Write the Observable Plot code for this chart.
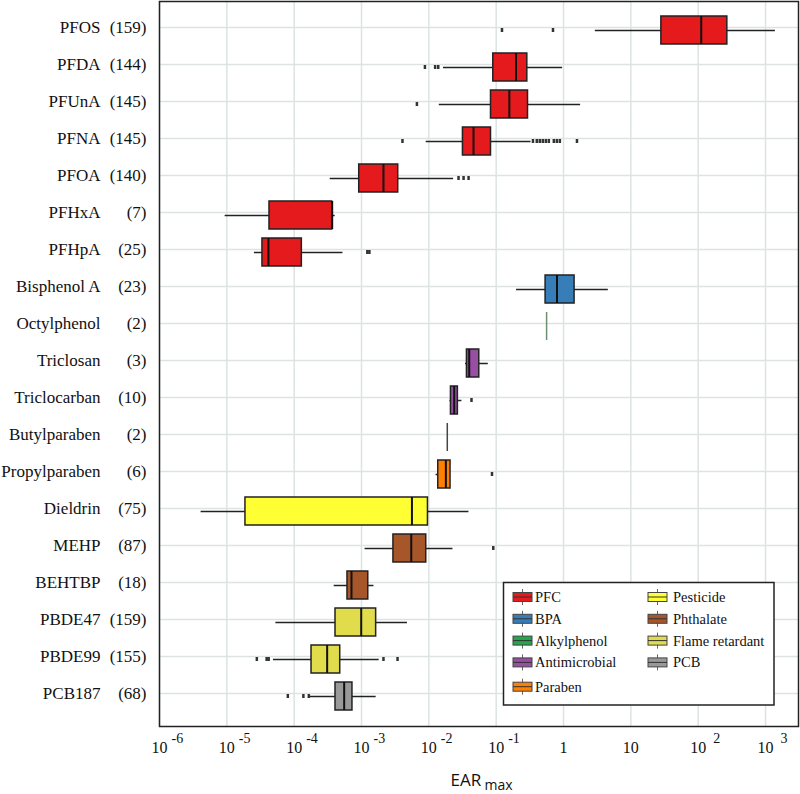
<!DOCTYPE html>
<html><head><meta charset="utf-8">
<script src="https://cdn.jsdelivr.net/npm/d3@7"></script>
<script src="https://cdn.jsdelivr.net/npm/@observablehq/plot@0.6"></script>
<style>body{margin:0;background:#fff}</style>
</head><body><div id="chart"></div>
<script>
const names = ["PFOS","PFDA","PFUnA","PFNA","PFOA","PFHxA","PFHpA","Bisphenol A","Octylphenol","Triclosan","Triclocarban","Butylparaben","Propylparaben","Dieldrin","MEHP","BEHTBP","PBDE47","PBDE99","PCB187"];
const counts = [159,144,145,145,140,7,25,23,2,3,10,2,6,75,87,18,159,155,68];
const groups = ["PFC","PFC","PFC","PFC","PFC","PFC","PFC","BPA","Alkylphenol","Antimicrobial","Antimicrobial","Paraben","Paraben","Pesticide","Phthalate","Phthalate","Flame retardant","Flame retardant","PCB"];
const whiskerLow = [2.97,0.0165,0.0143,0.00914,0.000343,9.44e-6,2.57e-5,0.201,0.561,0.0351,0.0206,0.0188,0.0128,4.15e-6,0.00113,3.93e-4,5.35e-5,4.92e-5,1.67e-4];
const q1 = [28.4,0.0906,0.0838,0.0321,0.000925,4.3e-5,3.38e-5,0.542,0.561,0.0368,0.0213,0.0188,0.0138,1.89e-5,0.00298,6.19e-4,4.11e-4,1.81e-4,4.11e-4];
const median = [111,0.197,0.157,0.0461,0.00212,3.67e-4,4.15e-5,0.8,0.561,0.0398,0.0238,0.0188,0.0179,0.00561,0.00548,7.1e-4,9.9e-4,3.09e-4,5.53e-4];
const q3 = [271,0.29,0.297,0.0838,0.00351,3.67e-4,1.3e-4,1.46,0.561,0.0561,0.027,0.0188,0.021,0.0097,0.00915,1.26e-3,1.65e-3,4.83e-4,7.34e-4];
const whiskerHigh = [1403,0.97,1.795,0.329,0.0233,4.06e-4,5.3e-4,4.63,0.561,0.0764,0.031,0.0188,0.021,0.0394,0.0228,1.53e-3,4.82e-3,1.83e-3,1.65e-3];

const outlierNames = ["PFOS","PFOS","PFDA","PFDA","PFDA","PFUnA",
  "PFNA","PFNA","PFNA","PFNA","PFNA","PFNA","PFNA","PFNA","PFNA","PFNA","PFNA",
  "PFOA","PFOA","PFOA","PFHpA","PFHpA","Triclocarban","Propylparaben","MEHP",
  "PBDE99","PBDE99","PBDE99","PBDE99","PBDE99","PCB187","PCB187","PCB187"];
const outlierValues = [0.122,0.698,0.00875,0.0124,0.0138,0.00665,
  0.00406,0.352,0.401,0.444,0.492,0.546,0.605,0.718,0.796,0.882,1.585,
  0.0276,0.0328,0.0389,1.22e-3,1.31e-3,0.043,0.0867,0.0906,
  2.79e-5,3.9e-5,4.18e-5,2.12e-3,3.43e-3,8.05e-5,1.37e-4,1.65e-4];

const tickValues = [1e-6,1e-5,1e-4,1e-3,1e-2,1e-1,1,10,100,1000];
const tickBases = ["10","10","10","10","10","10","1","10","10","10"];
const tickExps = ["-6","-5","-4","-3","-2","-1","","","2","3"];

const legendGroups = ["PFC","BPA","Alkylphenol","Antimicrobial","Paraben","Pesticide","Phthalate","Flame retardant","PCB"];
const groupColors = ["#e41a1c","#377eb8","#22a84a","#984ea3","#ff7f00","#ffff33","#a65628","#e0dc4c","#999999"];

const rows = names.map((name,i)=>({name, count: counts[i], group: groups[i], lo: whiskerLow[i], q1: q1[i], med: median[i], q3: q3[i], hi: whiskerHigh[i]}));
const boxes = rows.filter(d => d.q3 > d.q1);
const flat = rows.filter(d => d.q3 <= d.q1);
const outliers = outlierNames.map((n,i)=>({name: n, value: outlierValues[i]}));
const ticks = tickValues.map((v,i)=>({v, base: tickBases[i], exp: tickExps[i]}));
const colorOf = g => groupColors[legendGroups.indexOf(g)];

const serif = "'Liberation Serif','Times New Roman',serif";
const chart = Plot.plot({
  width: 800, height: 794,
  marginLeft: 159, marginRight: 2, marginTop: 1, marginBottom: 68,
  style: {fontFamily: serif, background: "white", color: "#111"},
  x: {type: "log", domain: [1e-6, Math.pow(10, 3.49)], axis: null},
  y: {type: "band", domain: names, axis: null, paddingInner: 0.23, paddingOuter: 0.115, insetTop: 4, insetBottom: 4},
  marks: [
    Plot.gridX(tickValues, {stroke: "#dde3e3", strokeOpacity: 1, strokeWidth: 1.5}),
    Plot.ruleY(names, {y: d => d, stroke: "#dde3e3", strokeWidth: 1.5, dy: -3}),
    Plot.ruleY(rows, {y: "name", x1: "lo", x2: "hi", stroke: "#222", strokeWidth: 1.5}),
    Plot.barX(boxes, {y: "name", x1: "q1", x2: "q3", fill: d => colorOf(d.group), stroke: "#222", strokeWidth: 1.5}),
    Plot.tickX(boxes, {y: "name", x: "med", stroke: "#111", strokeWidth: 2}),
    Plot.tickX(flat, {y: "name", x: "med", stroke: d => d.group === "Alkylphenol" ? "#6f8f72" : "#444", strokeWidth: 1.5}),
    Plot.tickX(outliers, {y: "name", x: "value", stroke: "#333", strokeWidth: 2.5, insetTop: 12, insetBottom: 12}),
    Plot.frame({stroke: "#222", strokeWidth: 1.5}),
    Plot.text(rows, {y: "name", text: "name", frameAnchor: "left", dx: -59, dy: -3, textAnchor: "end", fontSize: 17, fontFamily: serif}),
    Plot.text(rows, {y: "name", text: d => `(${d.count})`, frameAnchor: "left", dx: -13, dy: -3, textAnchor: "end", fontSize: 17, fontFamily: serif}),
    Plot.text(ticks, {x: "v", text: "base", frameAnchor: "bottom", dy: 26, lineAnchor: "bottom", fontSize: 16, fontFamily: serif}),
    Plot.text(ticks.filter(d => d.exp.startsWith("-")), {x: "v", text: "exp", frameAnchor: "bottom", dx: 12, dy: 16.5, lineAnchor: "bottom", textAnchor: "start", fontSize: 14, fontFamily: serif}),
    Plot.text(ticks.filter(d => d.exp && !d.exp.startsWith("-")), {x: "v", text: "exp", frameAnchor: "bottom", dx: 15, dy: 16.5, lineAnchor: "bottom", textAnchor: "start", fontSize: 14, fontFamily: serif}),
    Plot.text(["EAR"], {frameAnchor: "bottom-left", dx: 291, dy: 59, textAnchor: "start", lineAnchor: "bottom", fontFamily: "'Open Sans',sans-serif", fontSize: 17}),
    Plot.text(["max"], {frameAnchor: "bottom-left", dx: 325, dy: 63.5, textAnchor: "start", lineAnchor: "bottom", fontFamily: "'Open Sans',sans-serif", fontSize: 14})
  ]
});
document.getElementById("chart").appendChild(chart);

// legend
const svgEl = chart.tagName.toLowerCase() === "svg" ? chart : chart.querySelector("svg");
const lg = d3.select(svgEl).append("g").attr("font-family", serif).attr("fill", "#111").attr("text-anchor", "start");
lg.append("rect").attr("x", 503.5).attr("y", 582.5).attr("width", 270.5).attr("height", 122.5)
  .attr("fill", "#fff").attr("stroke", "#222").attr("stroke-width", 1.5);
legendGroups.forEach((g, i) => {
  const col = i < 5 ? 0 : 1;
  const row = col ? i - 5 : i;
  const x = col ? 648 : 513;
  const y = 597 + row * 21.8 + (i === 4 ? 2.5 : 0);
  const item = lg.append("g").attr("transform", `translate(${x},${y})`);
  item.append("line").attr("x1", 9.5).attr("x2", 9.5).attr("y1", -8).attr("y2", 8).attr("stroke", "#666").attr("stroke-width", 1);
  item.append("rect").attr("x", 0).attr("y", -4.5).attr("width", 19).attr("height", 9).attr("fill", groupColors[i]).attr("stroke", "#444").attr("stroke-width", 1);
  item.append("line").attr("x1", 0).attr("x2", 19).attr("y1", 0).attr("y2", 0).attr("stroke", "#333").attr("stroke-width", 1);
  item.append("text").attr("x", col ? 25 : 22).attr("y", 0).attr("dy", "0.35em").attr("font-size", 14.5).attr("text-anchor", "start").text(g);
});
</script>
</body></html>
